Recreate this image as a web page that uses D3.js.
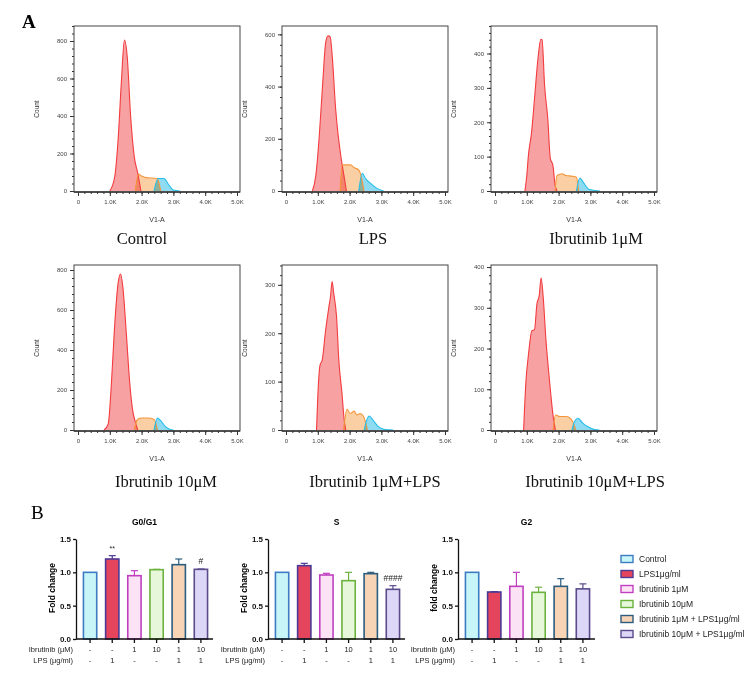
<!DOCTYPE html>
<html>
<head>
<meta charset="utf-8">
<script src="https://cdn.jsdelivr.net/npm/d3@7"></script>
<style>
  body { margin: 0; background: #fff; }
  svg text { font-family: Arial, "Liberation Sans", sans-serif; }
  .hist .tick text { font-size: 6px; fill: #444; }
  .hist .tick line, .hist .domain { stroke: #333; }
  .bars .tick text { font-size: 8px; font-weight: bold; fill: #111; }
  .bars .tick line, .bars .domain { stroke: #111; stroke-width: 1.3; }
  .serif { font-family: "Liberation Serif", "Times New Roman", serif !important; }
</style>
</head>
<body>
<svg id="chart" width="755" height="675"></svg>
<script>
// ---- Panel A: flow histograms (x in K units of V1-A, y = count) ----
var samples = ["Control", "LPS", "Ibrutinib 1μM", "Ibrutinib 10μM", "Ibrutinib 1μM+LPS", "Ibrutinib 10μM+LPS"];
var countMax = [880, 632, 480, 825, 341, 405];
var countStep = [200, 200, 100, 200, 100, 100];
var xTicks = [0, 1, 2, 3, 4, 5];

var g1Peaks = [
  [[1.00,0],[1.155,76],[1.26,270],[1.36,570],[1.46,805],[1.55,712],[1.65,412],[1.77,182],[1.88,94],[1.98,0]],
  [[0.83,0],[0.94,61],[1.04,200],[1.15,405],[1.25,570],[1.32,594],[1.39,590],[1.46,507],[1.56,316],[1.64,214],[1.72,138],[1.82,61],[1.90,0]],
  [[0.94,0],[1.00,45],[1.05,103],[1.15,171],[1.25,277],[1.35,384],[1.44,441],[1.48,440],[1.56,306],[1.66,210],[1.74,94],[1.82,75],[1.89,17],[1.95,0]],
  [[0.82,0],[0.95,30],[1.05,230],[1.15,515],[1.26,733],[1.34,780],[1.41,716],[1.52,482],[1.62,248],[1.72,97],[1.79,47],[1.88,0]],
  [[0.96,0],[1.00,69],[1.07,134],[1.14,145],[1.24,203],[1.35,255],[1.40,276],[1.45,307],[1.50,283],[1.59,234],[1.66,145],[1.76,76],[1.83,21],[1.88,0]],
  [[0.90,0],[0.97,116],[1.06,190],[1.16,244],[1.24,246],[1.32,310],[1.39,330],[1.45,373],[1.52,322],[1.60,223],[1.68,149],[1.76,83],[1.83,33],[1.90,0]]
];
var sPhase = [
  [[1.80,0],[1.90,90],[2.00,80],[2.20,70],[2.40,68],[2.50,65],[2.55,40],[2.60,0]],
  [[1.70,0],[1.77,100],[1.87,100],[2.03,100],[2.14,90],[2.29,80],[2.38,48],[2.45,0]],
  [[1.89,0],[1.95,45],[2.12,50],[2.23,45],[2.43,43],[2.56,40],[2.63,0]],
  [[1.77,0],[1.86,50],[1.98,60],[2.19,60],[2.37,55],[2.44,38],[2.50,0]],
  [[1.81,0],[1.92,43],[2.02,34],[2.14,39],[2.23,31],[2.33,34],[2.44,28],[2.51,14],[2.56,0]],
  [[1.83,0],[1.90,37],[2.04,33],[2.25,33],[2.40,26],[2.49,12],[2.54,0]]
];
var g2Peaks = [
  [[2.39,0],[2.52,67],[2.70,67],[2.86,32],[3.00,5],[3.20,0]],
  [[2.29,0],[2.40,68],[2.50,48],[2.66,29],[2.86,10],[3.07,0]],
  [[2.56,0],[2.67,38],[2.77,26],[2.95,5],[3.30,0]],
  [[2.39,0],[2.50,60],[2.60,47],[2.75,17],[2.90,3],[3.00,0]],
  [[2.46,0],[2.54,21],[2.62,29],[2.73,21],[2.90,7],[3.11,1],[3.37,0]],
  [[2.42,0],[2.50,21],[2.61,29],[2.76,17],[2.92,8],[3.13,1],[3.28,0]]
];

// ---- Panel B: fold change bars ----
var groups = ["Control", "LPS1μg/ml", "Ibrutinib 1μM", "Ibrutinib 10μM", "Ibrutinib 1μM + LPS1μg/ml", "Ibrutinib 10μM + LPS1μg/ml"];
var ibrutinibRow = ["-", "-", "1", "10", "1", "10"];
var lpsRow = ["-", "1", "-", "-", "1", "1"];
var g0g1Mean = [1.00, 1.20, 0.95, 1.04, 1.115, 1.045];
var g0g1Err  = [0, 0.05, 0.075, 0.005, 0.085, 0.005];
var g0g1Marks = ["", "**", "", "", "", "#"];
var sMean = [1.00, 1.10, 0.96, 0.875, 0.98, 0.745];
var sErr  = [0, 0.035, 0.025, 0.125, 0.02, 0.055];
var sMarks = ["", "", "", "", "", "####"];
var g2Mean = [1.00, 0.705, 0.79, 0.70, 0.79, 0.752];
var g2Err  = [0, 0.005, 0.21, 0.077, 0.115, 0.075];
var g2Marks = ["", "", "", "", "", ""];
var yTicksB = [0, 0.5, 1.0, 1.5];

// Colours
var fills   = ["#c8f5f7", "#e5455c", "#fbe3f5", "#e7f8da", "#f8d4b6", "#dcd6f7"];
var strokes = ["#3d7cc2", "#4d3a94", "#c03fc0", "#6cb23e", "#2b5d7e", "#5b4b8b"];
var histFill = ["#f7a1a3", "#fbcfa4", "#8edbf2"];
var histLine = ["#f23c3f", "#f5953a", "#25bde8"];

var svg = d3.select("#chart");

// Panel letters
svg.append("text").attr("class", "serif").attr("x", 22).attr("y", 28)
  .style("font-size", "19px").style("font-weight", "bold").text("A");
svg.append("text").attr("class", "serif").attr("x", 31).attr("y", 519)
  .style("font-size", "19px").text("B");

// Histogram layout
var histW = 166, histH = 166;
var histCols = [74, 282, 491];
var histRows = [26, 265];
var titleX = [142, 373, 596, 166, 375, 595];
var titleY = [244, 487];

samples.forEach(function(name, i) {
  var col = i % 3, row = Math.floor(i / 3);
  var left = histCols[col], top = histRows[row];
  var right = left + histW, axisY = top + histH;

  var g = svg.append("g").attr("class", "hist");

  var x = d3.scaleLinear().domain([0, 5]).range([left + 4, right - 3]);
  var y = d3.scaleLinear().domain([0, countMax[i]]).range([axisY - 1, top]);

  // Frame
  g.append("rect")
    .attr("x", left).attr("y", top)
    .attr("width", histW).attr("height", histH)
    .attr("fill", "none").attr("stroke", "#444").attr("stroke-width", 1);

  var area = d3.area().x(d => x(d[0])).y0(y(0)).y1(d => y(d[1])).curve(d3.curveMonotoneX);
  var line = d3.line().x(d => x(d[0])).y(d => y(d[1])).curve(d3.curveMonotoneX);

  [g1Peaks[i], sPhase[i], g2Peaks[i]].forEach(function(pts, k) {
    g.append("path").datum(pts)
      .attr("d", area)
      .attr("fill", histFill[k])
      .style("mix-blend-mode", "multiply");
  });
  [g1Peaks[i], sPhase[i], g2Peaks[i]].forEach(function(pts, k) {
    g.append("path").datum(pts)
      .attr("d", line)
      .attr("fill", "none")
      .attr("stroke", histLine[k])
      .attr("stroke-width", 1.1);
  });

  // X axis (major + minor)
  g.append("g").attr("transform", "translate(0," + axisY + ")")
    .call(d3.axisBottom(x).tickValues(d3.range(0, 5.01, 0.2)).tickSize(2).tickFormat(""))
    .call(s => s.select(".domain").remove());
  g.append("g").attr("transform", "translate(0," + axisY + ")")
    .call(d3.axisBottom(x).tickValues(xTicks).tickSize(4).tickSizeOuter(0).tickPadding(4)
      .tickFormat(d => d === 0 ? "0" : d.toFixed(1) + "K"))
    .call(s => s.select(".domain").attr("d", "M" + left + ",0H" + right).attr("stroke-width", 1.4));

  // Y axis (major + minor)
  var major = d3.range(0, countMax[i] + 1, countStep[i]);
  var minor = d3.range(0, countMax[i] + 1, countStep[i] / 5);
  g.append("g").attr("transform", "translate(" + left + ",0)")
    .call(d3.axisLeft(y).tickValues(minor).tickSize(2).tickFormat(""))
    .call(s => s.select(".domain").remove());
  g.append("g").attr("transform", "translate(" + left + ",0)")
    .call(d3.axisLeft(y).tickValues(major).tickSize(4).tickSizeOuter(0).tickPadding(3))
    .call(s => s.select(".domain").remove());

  // Axis titles
  g.append("text")
    .attr("transform", "translate(" + (left - 35) + "," + (top + histH / 2) + ") rotate(-90)")
    .attr("text-anchor", "middle").style("font-size", "6.5px").attr("fill", "#333")
    .text("Count");
  g.append("text")
    .attr("x", (left + right) / 2).attr("y", axisY + 30)
    .attr("text-anchor", "middle").style("font-size", "7px").attr("fill", "#333")
    .text("V1-A");

  // Sample title
  svg.append("text").attr("class", "serif")
    .attr("x", titleX[i]).attr("y", titleY[row])
    .attr("text-anchor", "middle").style("font-size", "16.5px").attr("fill", "#111")
    .text(name);
});

// Bar charts
var barCharts = [
  {title: "G0/G1", mean: g0g1Mean, err: g0g1Err, marks: g0g1Marks, axisX: 76, ylab: "Fold change"},
  {title: "S", mean: sMean, err: sErr, marks: sMarks, axisX: 268, ylab: "Fold change"},
  {title: "G2", mean: g2Mean, err: g2Err, marks: g2Marks, axisX: 458, ylab: "fold change"}
];

var yB = d3.scaleLinear().domain([0, 1.5]).range([639, 539]);

barCharts.forEach(function(c) {
  var g = svg.append("g").attr("class", "bars");
  var x = d3.scaleBand().domain(groups)
    .range([c.axisX + 3, c.axisX + 136])
    .paddingInner(0.4).paddingOuter(0.2);
  var xEnd = c.axisX + 137;

  // Bars
  g.selectAll("rect.bar").data(groups).enter().append("rect")
    .attr("class", "bar")
    .attr("x", d => x(d))
    .attr("width", x.bandwidth())
    .attr("y", (d, j) => yB(c.mean[j]))
    .attr("height", (d, j) => yB(0) - yB(c.mean[j]))
    .attr("fill", (d, j) => fills[j])
    .attr("stroke", (d, j) => strokes[j])
    .attr("stroke-width", 1.6);

  // Error bars (upper only)
  groups.forEach(function(d, j) {
    if (c.err[j] <= 0) return;
    var cx = x(d) + x.bandwidth() / 2;
    var y0 = yB(c.mean[j]), y1 = yB(c.mean[j] + c.err[j]);
    g.append("line").attr("x1", cx).attr("x2", cx).attr("y1", y0).attr("y2", y1)
      .attr("stroke", strokes[j]).attr("stroke-width", 1.2);
    g.append("line").attr("x1", cx - 3.5).attr("x2", cx + 3.5).attr("y1", y1).attr("y2", y1)
      .attr("stroke", strokes[j]).attr("stroke-width", 1.2);
    if (c.marks[j]) {
      g.append("text").attr("x", cx).attr("y", y1 - 5)
        .attr("text-anchor", "middle")
        .style("font-size", c.marks[j] === "**" ? "7px" : "8.5px")
        .attr("fill", "#222").text(c.marks[j]);
    }
  });

  // Y axis
  g.append("g").attr("transform", "translate(" + c.axisX + ",0)")
    .call(d3.axisLeft(yB).tickValues(yTicksB).tickFormat(d3.format(".1f")).tickSize(3).tickSizeOuter(0).tickPadding(2));

  // X axis line with ticks under each bar
  g.append("line").attr("x1", c.axisX).attr("x2", xEnd).attr("y1", yB(0)).attr("y2", yB(0))
    .attr("stroke", "#111").attr("stroke-width", 1.3);
  g.selectAll("line.xt").data(groups).enter().append("line")
    .attr("class", "xt")
    .attr("x1", d => x(d) + x.bandwidth() / 2).attr("x2", d => x(d) + x.bandwidth() / 2)
    .attr("y1", yB(0)).attr("y2", yB(0) + 4)
    .attr("stroke", "#111").attr("stroke-width", 1.3);

  // Title
  g.append("text").attr("x", (c.axisX + xEnd) / 2).attr("y", 525)
    .attr("text-anchor", "middle").style("font-size", "8.5px").style("font-weight", "bold")
    .text(c.title);

  // Y label
  g.append("text")
    .attr("transform", "translate(" + (c.axisX - 21) + "," + 588 + ") rotate(-90)")
    .attr("text-anchor", "middle").style("font-size", "8.5px").style("font-weight", "bold")
    .text(c.ylab);

  // Treatment rows
  [["Ibrutinib (μM)", ibrutinibRow, 652], ["LPS (μg/ml)", lpsRow, 663]].forEach(function(r) {
    g.append("text").attr("x", c.axisX - 3).attr("y", r[2])
      .attr("text-anchor", "end").style("font-size", "7.5px").attr("fill", "#222").text(r[0]);
    g.selectAll(null).data(groups).enter().append("text")
      .attr("x", d => x(d) + x.bandwidth() / 2).attr("y", r[2])
      .attr("text-anchor", "middle").style("font-size", "7.5px").attr("fill", "#222")
      .text((d, j) => r[1][j]);
  });
});

// Legend
var legend = svg.append("g").attr("transform", "translate(621,559)");
groups.forEach(function(name, j) {
  var row = legend.append("g").attr("transform", "translate(0," + (j * 15) + ")");
  row.append("rect").attr("x", 0).attr("y", -3.5).attr("width", 12).attr("height", 7)
    .attr("fill", fills[j]).attr("stroke", strokes[j]).attr("stroke-width", 1.4);
  row.append("text").attr("x", 18).attr("y", 0).attr("dy", "0.35em")
    .style("font-size", "8.5px").attr("fill", "#222").text(name);
});
</script>
</body>
</html>
